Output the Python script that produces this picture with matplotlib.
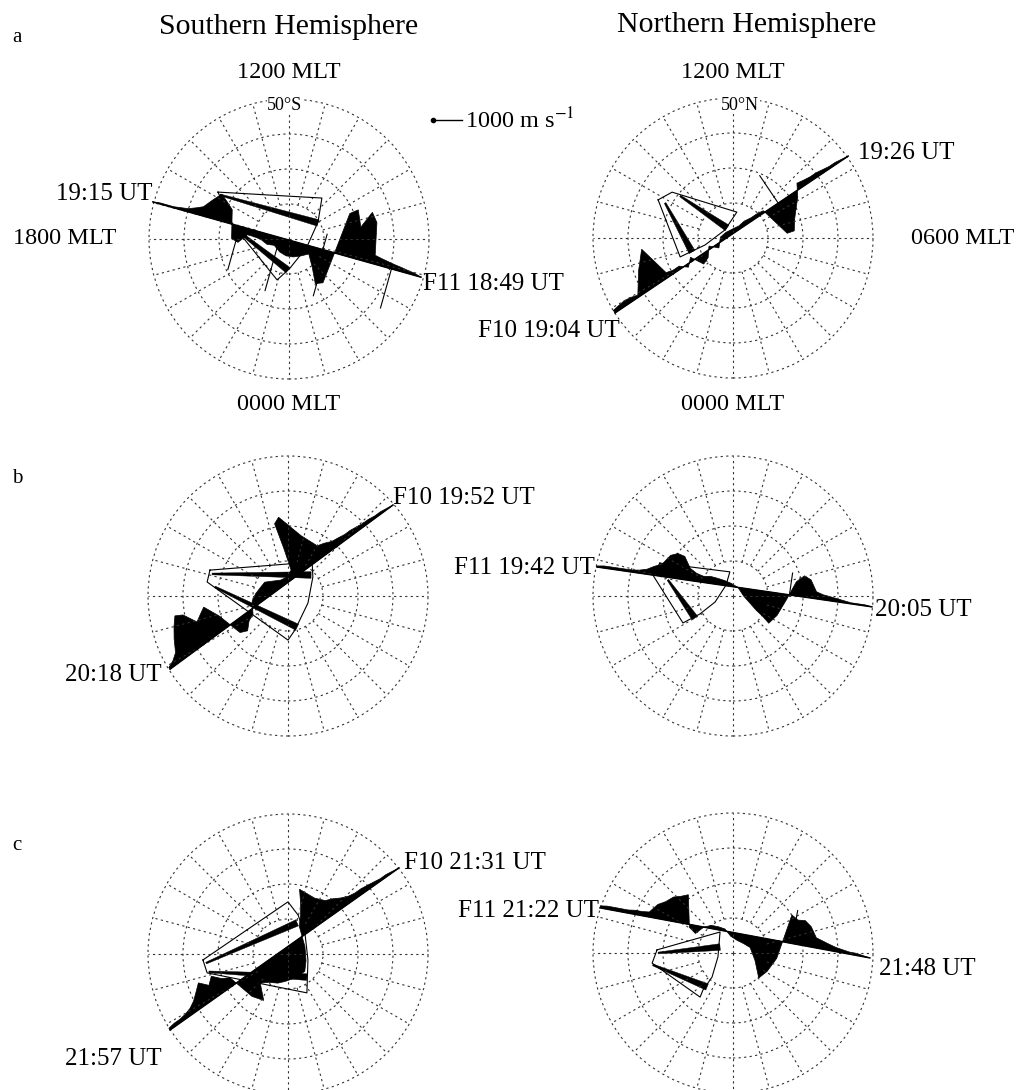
import numpy as np
import matplotlib.pyplot as plt
from matplotlib.patches import Circle

plt.rcParams['font.family'] = ['Liberation Serif', 'DejaVu Serif']
plt.rcParams['mathtext.fontset'] = 'stix'

W, H = 1019, 1090
PX_PER_DEG = 3.5                     # 40 deg colatitude = 140 px
MS_TO_DEG = 29.0 / PX_PER_DEG / 1000  # 1000 m/s bar is ~29 px long

# dial positions are in degrees of colatitude:
# x toward 0600 MLT, y toward 1200 MLT
ring_colat = [10, 20, 30, 40]
spoke_mlt = list(range(24))

# ---------------- panel a, southern hemisphere ----------------
a_s_track = [(-38.9, 10.6), (37.7, -10.9)]
a_s_vel = [0, 35, 35, 35, 70, 105, 200, 310, 620, 900, 700, 480, -480, -550,
           -210, -210, -240, -345, -310, -480, -550, -520, -415, -275, -700,
           -1200, -1100, 1450, 1650, 1100, 1700, 1400, 300, 250, 210, 170,
           140, 100, 70, 0]
a_s_spike_pos = [0.325, 0.474, 0.634, 0.646, 0.89]
a_s_spike_vel = [-1550, -1900, 550, -1620, -1400]
a_s_fan_x = [-20.3, 9.4, 8.3, 5.1, 0.3, -3.4, -16.0]
a_s_fan_y = [13.4, 11.7, 4.9, -2.3, -8.3, -11.7, 4.0]
a_s_beams = [(-19.7, 12.6, 8.3, 4.6), (-16.0, 3.4, -0.3, -8.9)]

# ---------------- panel a, northern hemisphere ----------------
a_n_track = [(-33.7, -21.4), (32.9, 23.4)]
a_n_vel = [105, 140, 170, 140, 70, 415, 760, 1035, 1310, 170, 105, 105, -105,
           140, -310, -210, 105, -140, 140, 170, 140, 105, 140, 105, 105, 70,
           -1035, -1100, -760, -480, -210, 210, 170, 140, 140, 105, 70, 70, 35, 0]
a_n_spike_pos = [0.70]
a_n_spike_vel = [1140]
a_n_fan_x = [-21.4, -17.4, 1.1, -2.3, -8.0, -15.1]
a_n_fan_y = [10.9, 13.1, 7.4, 2.3, -2.0, -5.4]
a_n_beams = [(-15.1, 12.0, -1.7, 2.9), (-19.4, 10.0, -11.7, -4.0)]

# ---------------- panel b, southern hemisphere ----------------
b_s_track = [(-33.7, -20.9), (30.0, 26.0)]
b_s_vel = [70, 170, 345, 760, 1100, 1380, 1240, 760, 900, 1035, 480, -415,
           -520, -275, -170, 210, 345, 415, 480, 345, 210, 170, 275, 1035,
           1900, 2000, 1035, 415, 345, 240, 210, 170, 170, 140, 105, 105, 70,
           70, 35, 0]
b_s_spike_pos = []
b_s_spike_vel = []
b_s_fan_x = [-22.3, 6.9, 7.1, 5.7, 2.0, 0.0, -23.1]
b_s_fan_y = [7.4, 9.7, 5.4, -2.0, -9.7, -12.6, 4.0]
b_s_beams = [(-21.7, 6.3, 6.6, 6.0), (-20.9, 2.6, 2.6, -8.9)]

# ---------------- panel b, northern hemisphere ----------------
b_n_track = [(-38.9, 8.3), (39.7, -3.1)]
b_n_vel = [35, 70, 70, 70, 70, 70, 105, 170, 310, 415, 760, 860, 795, 415, 275,
           210, 240, 210, 170, 105, 0, -275, -480, -690, -860, -1070, -760,
           -170, 480, 725, 620, 240, 170, 140, 105, 70, 35, 35, 35, 0]
b_n_spike_pos = [0.70]
b_n_spike_vel = [760]
b_n_fan_x = [-20.9, -0.9, -2.0, -5.1, -9.4, -14.3, -22.9]
b_n_fan_y = [9.4, 6.9, 3.1, -1.7, -5.1, -7.7, 6.0]
b_n_beams = [(-18.6, 4.6, -10.9, -6.3)]

# ---------------- panel c, southern hemisphere ----------------
c_s_track = [(-33.7, -21.7), (31.7, 24.6)]
c_s_vel = [70, 105, 105, 140, 210, 345, 550, 760, 480, 690, 415, 275, -690,
           -1035, -480, -620, -830, -930, -1000, -1035, -1035, -760, -345, 345,
           620, 965, 1380, 830, 550, 450, 310, 210, 170, 170, 140, 105, 70, 70,
           35, 0]
c_s_spike_pos = []
c_s_spike_vel = []
c_s_fan_x = [-24.3, 0.0, 2.9, 4.9, 5.7, 5.4, -23.1]
c_s_fan_y = [-1.7, 14.9, 11.1, 5.4, -1.7, -11.1, -5.4]
c_s_beams = [(-23.4, -2.6, 2.6, 8.9), (-22.6, -5.1, 5.4, -6.6)]

# ---------------- panel c, northern hemisphere ----------------
c_n_track = [(-38.0, 12.9), (39.1, -1.4)]
c_n_vel = [70, 105, 105, 105, 105, 140, 140, 170, 480, 620, 830, 900, 1000,
           -100, -270, 0, 105, 105, 70, -140, -240, -310, -400, -800, -1380,
           -1100, -600, 965, 830, 860, 690, 345, 275, 205, 140, 105, 70, 70, 35, 0]
c_n_spike_pos = [0.71]
c_n_spike_vel = [1150]
c_n_fan_x = [-21.7, -3.7, -4.3, -6.0, -8.6, -9.4, -23.1]
c_n_fan_y = [0.9, 6.0, -1.1, -6.9, -10.6, -12.6, -2.9]
c_n_beams = [(-21.4, 0.0, -3.7, 1.7), (-22.9, -3.4, -7.4, -9.7)]


def dial_axes(cx, cy, half=50):
    """Axes in degrees of colatitude centred on a dial at pixel (cx, cy)."""
    hp = half * PX_PER_DEG
    ax = fig.add_axes([(cx - hp) / W, 1 - (cy + hp) / H, 2 * hp / W, 2 * hp / H])
    ax.set_xlim(-half, half)
    ax.set_ylim(-half, half)
    ax.patch.set_alpha(0)
    ax.axis('off')
    return ax


def draw_grid(ax):
    grid_kw = dict(color='0.2', lw=0.8, ls=(0, (2, 3)))
    for r in ring_colat:
        ax.add_patch(Circle((0, 0), r, fill=False, **grid_kw))
    for h in spoke_mlt:
        th = np.radians(h * 15)
        r0 = 0 if h % 6 == 0 else ring_colat[0]
        ax.plot([r0 * np.sin(th), 40 * np.sin(th)],
                [r0 * np.cos(th), 40 * np.cos(th)], **grid_kw)


def draw_track(ax, track, vel, spike_pos, spike_vel):
    p0, p1 = np.array(track[0]), np.array(track[1])
    d = (p1 - p0) / np.hypot(*(p1 - p0))
    n = np.array([-d[1], d[0]])
    s = np.linspace(0, 1, len(vel))
    base = p0 + s[:, None] * (p1 - p0)
    tip = base + (np.array(vel) * MS_TO_DEG)[:, None] * n
    poly = np.vstack([base, tip[::-1]])
    ax.fill(poly[:, 0], poly[:, 1], color='k', lw=0.5)
    for pos, v in zip(spike_pos, spike_vel):
        b = p0 + pos * (p1 - p0)
        t = b + v * MS_TO_DEG * n
        ax.plot([b[0], t[0]], [b[1], t[1]], color='k', lw=0.8)
    ax.plot([p0[0], p1[0]], [p0[1], p1[1]], color='k', lw=1.1)


def draw_fan(ax, fx, fy, beams):
    ax.plot(fx + fx[:1], fy + fy[:1], color='k', lw=0.8)
    for x0, y0, x1, y1 in beams:
        p0, p1 = np.array([x0, y0]), np.array([x1, y1])
        d = (p1 - p0) / np.hypot(*(p1 - p0))
        n = np.array([-d[1], d[0]])
        w0, w1 = 0.25, 0.95
        q = np.array([p0 + w0 * n, p1 + w1 * n, p1 - w1 * n, p0 - w0 * n])
        ax.fill(q[:, 0], q[:, 1], color='k', lw=0.3)


def label(x, y, s, ha='center', size=17.5, **kw):
    fig.text(x / W, 1 - y / H, s, ha=ha, va='center', fontsize=size, **kw)


fig = plt.figure(figsize=(W / 100, H / 100), dpi=100)

panels = [
    (289, 239, a_s_track, a_s_vel, a_s_spike_pos, a_s_spike_vel, a_s_fan_x, a_s_fan_y, a_s_beams),
    (733, 238, a_n_track, a_n_vel, a_n_spike_pos, a_n_spike_vel, a_n_fan_x, a_n_fan_y, a_n_beams),
    (288, 596, b_s_track, b_s_vel, b_s_spike_pos, b_s_spike_vel, b_s_fan_x, b_s_fan_y, b_s_beams),
    (733, 596, b_n_track, b_n_vel, b_n_spike_pos, b_n_spike_vel, b_n_fan_x, b_n_fan_y, b_n_beams),
    (288, 954, c_s_track, c_s_vel, c_s_spike_pos, c_s_spike_vel, c_s_fan_x, c_s_fan_y, c_s_beams),
    (733, 953, c_n_track, c_n_vel, c_n_spike_pos, c_n_spike_vel, c_n_fan_x, c_n_fan_y, c_n_beams),
]

axes = []
for cx, cy, trk, vel, sp, sv, fx, fy, bm in panels:
    ax = dial_axes(cx, cy)
    draw_grid(ax)
    draw_fan(ax, fx, fy, bm)
    draw_track(ax, trk, vel, sp, sv)
    axes.append(ax)

# velocity scale bar (1000 m/s) drawn in the first dial's units
ax0 = axes[0]
bx, by = (433 - 289) / PX_PER_DEG, (239 - 120) / PX_PER_DEG
ax0.plot([bx, bx + 1000 * MS_TO_DEG], [by, by], color='k', lw=1, clip_on=False)
ax0.plot([bx], [by], 'o', color='k', ms=3, clip_on=False)
fig.text(465 / W, 1 - 128 / H, r'1000 m s$^{-1}$', ha='left', va='baseline', fontsize=17.5)

# headings and dial labels
label(289, 27, 'Southern Hemisphere', size=21.5)
label(747, 25, 'Northern Hemisphere', size=21.5)
label(17, 38, 'a', size=15)
label(17, 478, 'b', size=15)
label(17, 845, 'c', size=15)

for cx in (289, 733):
    label(cx, 72, '1200 MLT')
    label(cx, 405, '0000 MLT')
label(65, 239, '1800 MLT')
label(963, 239, '0600 MLT')
label(285, 105, '50°S', size=13, bbox=dict(fc='white', ec='none', pad=0.5))
label(740, 105, '50°N', size=13, bbox=dict(fc='white', ec='none', pad=0.5))

label(152, 194, '19:15 UT', ha='right', size=18)
label(423, 284, 'F11 18:49 UT', ha='left', size=18)
label(858, 153, '19:26 UT', ha='left', size=18)
label(620, 331, 'F10 19:04 UT', ha='right', size=18)

label(393, 498, 'F10 19:52 UT', ha='left', size=18)
label(162, 675, '20:18 UT', ha='right', size=18)
label(595, 568, 'F11 19:42 UT', ha='right', size=18)
label(875, 610, '20:05 UT', ha='left', size=18)

label(404, 863, 'F10 21:31 UT', ha='left', size=18)
label(162, 1059, '21:57 UT', ha='right', size=18)
label(599, 911, 'F11 21:22 UT', ha='right', size=18)
label(879, 969, '21:48 UT', ha='left', size=18)

fig.savefig('out.png', dpi=100, facecolor='white')
